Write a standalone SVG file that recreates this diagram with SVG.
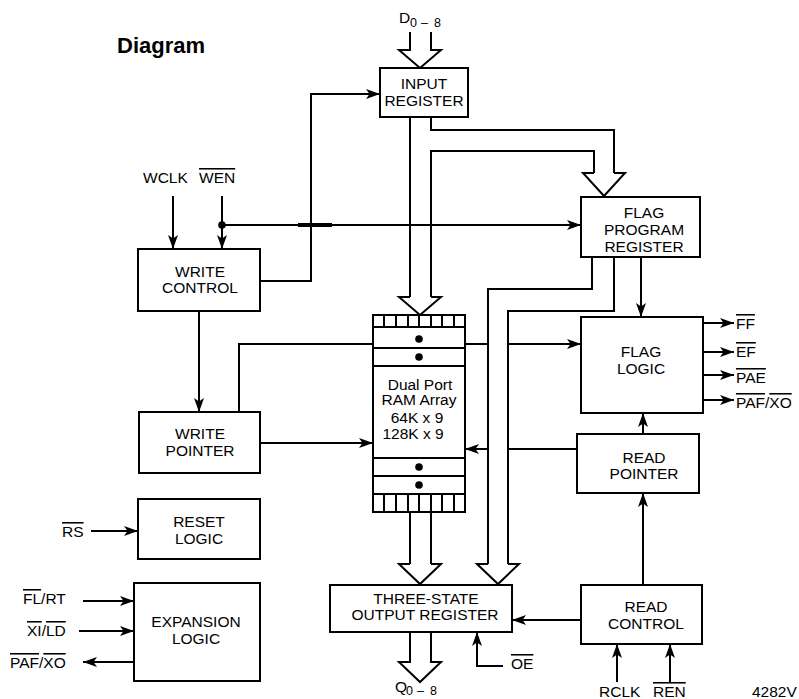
<svg xmlns="http://www.w3.org/2000/svg" width="799" height="699" viewBox="0 0 799 699">
<defs>
<style>
.bx{fill:#fff;stroke:#000;stroke-width:2}
.ln{fill:none;stroke:#000;stroke-width:2}
.hd{fill:#fff;stroke:#000;stroke-width:2;stroke-linejoin:miter}
text{font-family:"Liberation Sans",Arial,Helvetica,sans-serif;font-size:15.5px;fill:#000}
.c{text-anchor:middle}
.ov{text-decoration:overline}
.sub{font-size:12.5px}
</style>
<marker id="ar" markerUnits="userSpaceOnUse" markerWidth="15" markerHeight="10" refX="14" refY="5" orient="auto"><path d="M0,0 L14,5 L0,10 L3.5,5 z" fill="#000"/></marker>
</defs>
<rect width="799" height="699" fill="#fff"/>
<text x="117" y="53" style="font-weight:bold;font-size:22px">Diagram</text>

<g id="connectors">
  <path class="hd" d="M410,32 V50 H399 L420,68 L441,50 H431 V32"/>
  <path class="ln" d="M410,117 V297 M431,117 V130 H614 V173 M431,297 V151 H594 V173"/>
  <path class="hd" d="M410,297 H399 L420,315 L441,297 H431"/>
  <path class="hd" d="M594,173 H583 L604,196 L625,173 H614"/>
  <path class="ln" d="M260,281 H311 V94 H380" marker-end="url(#ar)"/>
  <path class="ln" d="M222,225 H581" marker-end="url(#ar)"/>
  <path class="ln" d="M298,225 H332" style="stroke-width:4"/>
  <circle cx="222" cy="225" r="3.8" fill="#000"/>
  <path class="ln" d="M173,196 V249" marker-end="url(#ar)"/>
  <path class="ln" d="M222,196 V249" marker-end="url(#ar)"/>
  <path class="ln" d="M199,311 V412" marker-end="url(#ar)"/>
  <path class="ln" d="M239,412 V344 H373"/>
  <path class="ln" d="M260,443 H373" marker-end="url(#ar)"/>
  <path class="ln" d="M465,344 H488"/>
  <path class="ln" d="M508,344 H581" marker-end="url(#ar)"/>
  <path class="ln" d="M577,449 H508"/>
  <path class="ln" d="M488,449 H465" marker-end="url(#ar)"/>
  <path class="ln" d="M641,257 V317" marker-end="url(#ar)"/>
  <path class="ln" d="M592,257 V289 H488 V564 M614,257 V311 H508 V564"/>
  <path class="hd" d="M488,564 H477 L498,584 L519,564 H508"/>
  <path class="ln" d="M410,512 V564 M431,512 V564"/>
  <path class="hd" d="M410,564 H399 L420,584 L441,564 H431"/>
  <path class="hd" d="M410,632 V662 H399 L420,682 L441,662 H431 V632"/>
  <path class="ln" d="M643,585 V493" marker-end="url(#ar)"/>
  <path class="ln" d="M643,434 V413" marker-end="url(#ar)"/>
  <path class="ln" d="M581,620 H512" marker-end="url(#ar)"/>
  <path class="ln" d="M503,666 H477 V632" marker-end="url(#ar)"/>
  <path class="ln" d="M617,682 V644" marker-end="url(#ar)"/>
  <path class="ln" d="M670,682 V644" marker-end="url(#ar)"/>
  <path class="ln" d="M703,323 H734" marker-end="url(#ar)"/>
  <path class="ln" d="M703,352 H734" marker-end="url(#ar)"/>
  <path class="ln" d="M703,375 H734" marker-end="url(#ar)"/>
  <path class="ln" d="M703,400 H734" marker-end="url(#ar)"/>
  <path class="ln" d="M91,531 H138" marker-end="url(#ar)"/>
  <path class="ln" d="M83,601 H134" marker-end="url(#ar)"/>
  <path class="ln" d="M79,631 H134" marker-end="url(#ar)"/>
  <path class="ln" d="M134,662 H83" marker-end="url(#ar)"/>
</g>

<g id="input-register">
  <rect class="bx" x="380" y="68" width="88" height="49"/>
  <text class="c" x="424" y="89">INPUT</text>
  <text class="c" x="424" y="106">REGISTER</text>
</g>
<g id="write-control">
  <rect class="bx" x="138" y="249" width="122" height="62"/>
  <text class="c" x="200" y="277">WRITE</text>
  <text class="c" x="200" y="293">CONTROL</text>
</g>
<g id="flag-program-register">
  <rect class="bx" x="581" y="197" width="119" height="60"/>
  <text class="c" x="644" y="218">FLAG</text>
  <text class="c" x="644" y="235">PROGRAM</text>
  <text class="c" x="644" y="252">REGISTER</text>
</g>
<g id="flag-logic">
  <rect class="bx" x="581" y="317" width="122" height="96"/>
  <text class="c" x="641" y="357">FLAG</text>
  <text class="c" x="641" y="374">LOGIC</text>
</g>
<g id="ram-array">
  <rect class="bx" x="373" y="315" width="92" height="197"/>
  <path class="ln" d="M373,327 H465 M373,348 H465 M373,366 H465 M373,458 H465 M373,476 H465 M373,494 H465 M384,315 V327 M396,315 V327 M408,315 V327 M419,315 V327 M431,315 V327 M442,315 V327 M454,315 V327 M384,494 V512 M396,494 V512 M408,494 V512 M419,494 V512 M431,494 V512 M442,494 V512 M454,494 V512"/>
  <circle cx="419" cy="339" r="3.8"/>
  <circle cx="419" cy="357" r="3.8"/>
  <circle cx="419" cy="467" r="3.8"/>
  <circle cx="419" cy="485" r="3.8"/>
  <text class="c" x="420" y="390">Dual Port</text>
  <text class="c" x="419" y="405">RAM Array</text>
  <text class="c" x="417" y="423">64K x 9</text>
  <text class="c" x="413" y="439">128K x 9</text>
</g>
<g id="write-pointer">
  <rect class="bx" x="139" y="412" width="121" height="61"/>
  <text class="c" x="200" y="439">WRITE</text>
  <text class="c" x="200" y="456">POINTER</text>
</g>
<g id="read-pointer">
  <rect class="bx" x="577" y="434" width="122" height="59"/>
  <text class="c" x="644" y="463">READ</text>
  <text class="c" x="644" y="479">POINTER</text>
</g>
<g id="reset-logic">
  <rect class="bx" x="138" y="499" width="122" height="60"/>
  <text class="c" x="199" y="527">RESET</text>
  <text class="c" x="199" y="544">LOGIC</text>
</g>
<g id="expansion-logic">
  <rect class="bx" x="134" y="583" width="126" height="98"/>
  <text class="c" x="196" y="627">EXPANSION</text>
  <text class="c" x="196" y="644">LOGIC</text>
</g>
<g id="output-register">
  <rect class="bx" x="330" y="585" width="182" height="47"/>
  <text class="c" x="426" y="604">THREE-STATE</text>
  <text class="c" x="425" y="620">OUTPUT REGISTER</text>
</g>
<g id="read-control">
  <rect class="bx" x="581" y="585" width="121" height="59"/>
  <text class="c" x="646" y="612">READ</text>
  <text class="c" x="646" y="629">CONTROL</text>
</g>

<g id="labels">
  <text x="399" y="23">D</text>
  <text class="sub" y="27"><tspan x="410">0</tspan><tspan x="421">–</tspan><tspan x="434">8</tspan></text>
  <text x="395" y="692">Q</text>
  <text class="sub" y="695"><tspan x="406">0</tspan><tspan x="417">–</tspan><tspan x="430">8</tspan></text>
  <text x="143" y="183">WCLK</text>
  <text x="199" y="183" class="ov">WEN</text>
  <text x="736" y="329" class="ov">FF</text>
  <text x="736" y="357" class="ov">EF</text>
  <text x="736" y="383" class="ov">PAE</text>
  <text x="736" y="408"><tspan class="ov">PAF</tspan>/<tspan class="ov">XO</tspan></text>
  <text x="62" y="537" class="ov">RS</text>
  <text x="23" y="604"><tspan class="ov">FL</tspan>/RT</text>
  <text x="27" y="636"><tspan class="ov">XI</tspan>/<tspan class="ov">LD</tspan></text>
  <text x="10" y="668"><tspan class="ov">PAF</tspan>/<tspan class="ov">XO</tspan></text>
  <text x="511" y="669" class="ov">OE</text>
  <text x="599" y="697">RCLK</text>
  <text x="653" y="697" class="ov">REN</text>
  <text x="752" y="697">4282V</text>
</g>
</svg>
